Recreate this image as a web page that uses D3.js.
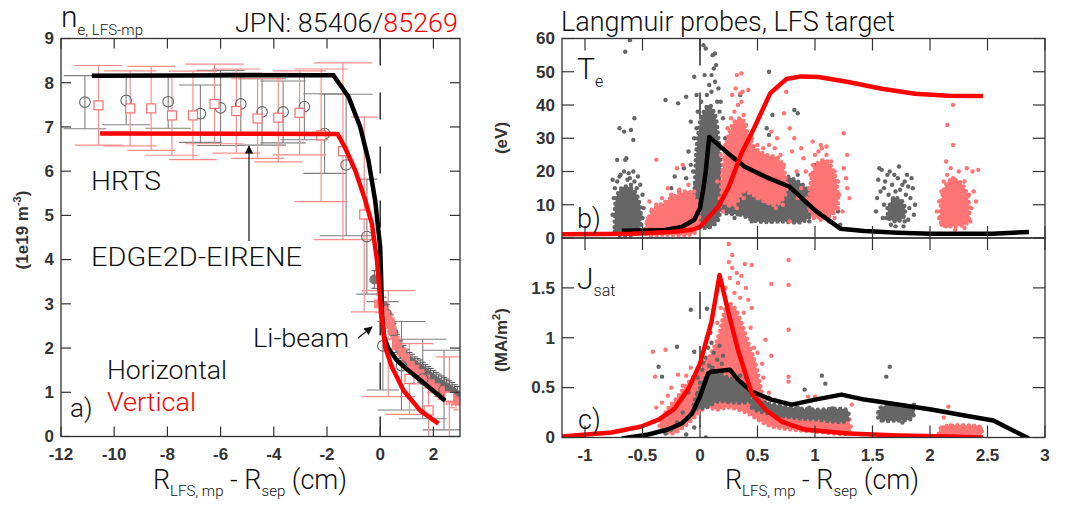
<!DOCTYPE html>
<html><head><meta charset="utf-8">
<script src="https://cdn.jsdelivr.net/npm/d3@7"></script>
<style>body{margin:0;background:#fff} svg{display:block}</style>
</head><body>
<svg id="c" width="1076" height="510"></svg>
<script>
// ---------------- DATA ----------------
const neXTicks = [-12,-10,-8,-6,-4,-2,0,2];
const neYTicks = [0,1,2,3,4,5,6,7,8,9];
const lpXTicks = [-1,-0.5,0,0.5,1,1.5,2,2.5,3];
const lpXLabels = ["-1","-0.5","0","0.5","1","1.5","2","2.5","3"];
const teYTicks = [0,10,20,30,40,50,60];
const jsYTicks = [0,0.5,1,1.5];
const jsYLabels = ["0","0.5","1","1.5"];

// EDGE2D-EIRENE ne profiles (x cm, ne 1e19)
const edgeNeHor = [[-10.84,8.16],[-1.76,8.17],[-1.19,7.68],[-0.75,7.0],[-0.44,6.24],[-0.19,5.34],[0,4.28],[0.04,3.5],[0.07,2.7],[0.15,2.25],[0.3,2.0],[0.63,1.72],[1.0,1.52],[1.38,1.34],[1.9,1.08],[2.44,0.81]];
const edgeNeVer = [[-10.53,6.85],[-1.6,6.84],[-1.32,6.53],[-0.94,6.02],[-0.56,5.34],[-0.31,4.81],[-0.12,3.98],[0.0,3.1],[0.1,2.5],[0.19,2.02],[0.44,1.57],[0.88,1.04],[1.5,0.59],[2.19,0.29]];

// HRTS [x, y, dx, dy]
const hrtsHor = [[-11.1,7.56,0.8,0.6],[-9.55,7.6,0.9,0.55],[-7.97,7.57,0.85,0.6],[-6.76,7.3,0.8,0.65],[-6.0,7.43,0.9,0.85],[-5.24,7.52,0.8,0.7],[-4.44,7.34,0.9,0.75],[-3.65,7.34,0.85,0.7],[-2.85,7.46,0.9,0.75],[-2.09,6.85,0.8,0.9],[-1.28,6.14,1.0,1.6],[-0.5,4.52,0.4,1.3],[0.1,2.05,0.6,1.0],[0.8,1.6,0.9,1.0],[1.6,1.3,0.9,0.9],[2.4,1.05,0.8,0.9]];
const hrtsVer = [[-10.59,7.49,0.9,0.9],[-9.40,7.42,1.0,0.85],[-8.61,7.42,0.9,0.95],[-7.83,7.26,1.0,0.9],[-7.04,7.26,0.9,1.0],[-6.23,7.52,1.1,0.9],[-5.41,7.36,0.9,0.95],[-4.61,7.19,1.0,0.9],[-3.83,7.21,0.9,1.0],[-3.03,7.32,1.0,0.95],[-2.22,6.81,1.0,1.5],[-1.4,6.45,1.1,2.0],[-0.6,5.02,0.5,2.2],[0.3,2.1,1.0,1.2],[1.1,1.3,0.9,0.8],[1.82,0.59,0.7,0.6],[2.6,0.9,0.5,0.9]];

// Li-beam [x, y]
const liHor = [[-0.22,3.55],[0.12,2.95],[0.25,2.78],[0.4,2.55],[0.5,2.35],[0.63,2.1],[0.75,1.96],[0.87,1.86],[1.0,1.76],[1.1,1.7],[1.2,1.66],[1.3,1.6],[1.4,1.56],[1.5,1.53],[1.6,1.48],[1.7,1.43],[1.8,1.38],[1.9,1.34],[2.0,1.29],[2.1,1.25],[2.2,1.21],[2.3,1.17],[2.4,1.13],[2.5,1.1],[2.6,1.06],[2.7,1.02],[2.8,0.97],[2.9,0.93]];
const liVer = [[-0.06,3.0],[0.1,2.85],[0.2,2.75],[0.3,2.65],[0.38,2.59],[0.45,2.4],[0.56,2.17],[0.65,2.05],[0.81,1.91],[0.95,1.78],[1.13,1.61],[1.3,1.52],[1.5,1.42],[1.7,1.3],[1.88,1.19],[2.1,1.1],[2.26,1.04],[2.5,0.93],[2.7,0.85],[2.85,0.8]];

// Langmuir probe Te (eV) EDGE2D lines
const edgeTeHor = [[-0.68,2.2],[-0.33,2.3],[-0.16,3.3],[-0.05,5.5],[0.0,9],[0.03,15],[0.05,20],[0.08,30.4],[0.28,24.4],[0.39,21.4],[0.57,18.4],[0.78,15.4],[1.0,8.3],[1.22,2.8],[1.43,2.1],[1.72,1.6],[2.01,1.3],[2.54,1.3],[2.86,1.8]];
const edgeTeVer = [[-1.2,1.1],[-0.59,1.3],[-0.25,1.8],[-0.07,2.5],[0.0,3.3],[0.16,9.5],[0.25,15.3],[0.36,25.4],[0.47,33],[0.61,43.5],[0.75,47.8],[0.88,48.6],[1.03,48.4],[1.29,46.9],[1.58,44.9],[1.87,43.4],[2.16,42.8],[2.46,42.7]];

// Te scatter, dense cores (outlines) and individual points
const teGrayCores = [
 [[-0.73,1.2],[-0.74,7],[-0.72,13],[-0.66,15.5],[-0.58,14.5],[-0.53,11],[-0.52,4],[-0.56,1.2],[-0.68,0.8]],
 [[-0.03,5],[-0.04,20],[-0.02,30],[0.02,37],[0.08,40],[0.13,37],[0.16,30],[0.18,22],[0.18,12],[0.15,5],[0.05,3]],
 [[0.2,8],[0.35,7],[0.5,5],[0.7,5],[0.9,5],[1.0,9],[0.95,14],[0.85,17],[0.7,19],[0.5,18],[0.35,19],[0.22,16]],
 [[1.64,6],[1.65,10],[1.7,12],[1.76,11],[1.78,7],[1.72,5]]
];
const teGrayPts = [[-0.74,2],[-0.72,4],[-0.7,6],[-0.73,9],[-0.69,11],[-0.66,13],[-0.62,14],[-0.58,12.5],[-0.54,10],[-0.52,7],[-0.51,4],[-0.53,2],[-0.6,1.5],[-0.67,1.2],[-0.72,17],[-0.7,18.5],[-0.66,20],[-0.62,19.5],[-0.58,20],[-0.6,16],[-0.55,15],[-0.68,14.5],[-0.74,15],[-0.63,17.5],[-0.57,17],[-0.52,16],[-0.75,12],[-0.5,13],[-0.65,23.5],[-0.64,24],[-0.72,23.5],[-0.7,33],[-0.66,32],[-0.6,32.5],[-0.57,36],[-0.58,29.5],[-0.65,56],[-0.61,59.5],[-0.76,7],[-0.49,9],[-0.69,19],[-0.61,18],[-0.54,18.5],[-0.76,17.5],[-0.5,6],
 [-0.45,5],[-0.42,8],[-0.35,4],[-0.3,10],[-0.25,12],[-0.2,6],[-0.18,14],[-0.15,8],[-0.12,18],[-0.1,12],[-0.08,22],[-0.3,41.5],[-0.19,40.5],[-0.12,42.5],[-0.08,35],[-0.05,48.5],[-0.03,43],[-0.25,15],[-0.05,30],[-0.1,26],[-0.06,20],[-0.04,16],[-0.14,21],[-0.22,18.5],
 [0.03,58],[0.05,57],[0.11,55],[0.13,55.5],[0.12,51],[0.14,52],[0.1,49],[0.04,49],[0.13,47],[0.16,45],[0.08,46],[0.18,41],[0.2,36],[0.22,30],[0.24,27],[-0.02,38],[-0.03,33],[0.0,28],[0.6,50],[0.35,43],[0.63,37],[0.82,38.5],[0.85,37.5],[0.58,33],[0.6,31],[0.45,30],[0.06,43],[0.1,44],[0.15,41],[0.17,38],[0.01,41],
 [0.25,10],[0.3,6],[0.35,14],[0.4,8],[0.42,18],[0.45,5],[0.5,12],[0.52,16],[0.55,7],[0.6,10],[0.62,5],[0.65,13],[0.68,8],[0.7,18],[0.72,6],[0.75,11],[0.78,9],[0.8,14],[0.83,6],[0.85,19],[0.88,10],[0.9,7],[0.92,13],[0.95,5],[1.0,8],[1.05,11],[1.1,6],[1.15,12],[1.2,8],[1.22,4],[0.97,15],[1.0,22],[0.35,21],[0.28,18],
 [1.53,8],[1.54,12],[1.55,17.5],[1.56,21],[1.6,10],[1.6,15],[1.62,6],[1.63,19],[1.65,20],[1.66,4],[1.68,8],[1.68,12],[1.7,14],[1.7,6],[1.72,9],[1.72,18],[1.74,11],[1.75,7],[1.76,16],[1.78,5],[1.79,13],[1.8,19],[1.82,9],[1.83,12],[1.85,15],[1.86,7],[1.87,10],[1.64,13],[1.66,10],[1.7,3.5],[1.58,20.5],[1.73,21.5],[1.57,14],[1.61,17],[1.67,16],[1.69,19],[1.74,14.5],[1.78,17],[1.81,15.5],[1.84,18],[1.59,6],[1.63,9],[1.81,5.5],[1.77,3.5],[1.65,7.5],[1.75,9.5]];
const tePinkCores = [
 [[-0.47,1.2],[-0.46,5],[-0.4,8.5],[-0.3,11],[-0.2,13],[-0.1,14],[-0.03,11],[-0.01,5],[-0.05,1.5],[-0.3,1]],
 [[0.19,13],[0.21,24],[0.25,31],[0.3,35],[0.36,36],[0.41,32],[0.48,27],[0.58,25],[0.68,24],[0.74,19],[0.74,13],[0.66,10],[0.56,11],[0.46,13],[0.38,14],[0.3,10],[0.23,10]],
 [[0.96,8],[0.97,18],[1.01,22],[1.08,23.5],[1.15,21],[1.19,16],[1.19,9],[1.12,6.5],[1.0,6.5]],
 [[2.09,6],[2.11,13],[2.16,17],[2.23,17.5],[2.3,15],[2.34,10],[2.32,4.5],[2.2,3.5],[2.11,4]]
];
const tePinkPts = [[-0.48,1.5],[-0.46,3],[-0.45,6],[-0.42,8.5],[-0.4,4],[-0.38,10],[-0.35,7],[-0.33,12],[-0.3,3],[-0.28,9],[-0.25,13],[-0.22,5],[-0.2,11],[-0.18,14.5],[-0.15,8],[-0.12,13],[-0.1,16],[-0.08,10],[-0.05,14],[-0.03,7],[-0.38,23.5],[-0.2,21],[-0.15,22],[-0.28,15],[-0.44,11],[-0.5,2],
 [0.17,12],[0.2,20],[0.22,28],[0.24,33],[0.27,36],[0.3,38],[0.33,40],[0.36,41],[0.38,37],[0.4,34],[0.32,49],[0.36,49.5],[0.37,44],[0.35,43.5],[0.42,44.5],[0.75,44],[0.73,37.5],[0.78,33],[0.82,30],[0.88,27],[0.9,24],[0.84,20],[0.8,26],[0.78,5],[0.5,-1.5],[0.45,30],[0.5,28],[0.55,27],[0.6,28],[0.65,27],[0.7,25],[0.73,22],[0.76,16],[0.72,10],[0.66,9],[0.58,11],[0.5,12],[0.44,14],[0.38,12],[0.32,9],[0.26,10],[0.2,8],[0.15,17],[0.18,25],[0.28,43],[0.31,45],[0.85,12],[0.88,15],[0.92,20],[0.62,32],[0.67,30],
 [0.95,9],[0.95,15],[0.96,19],[0.98,22],[1.0,25],[1.03,26],[1.06,27],[1.1,25],[1.14,23],[1.17,20],[1.2,17],[1.21,13],[1.2,9],[1.17,6],[1.12,5],[1.05,5.5],[0.99,6],[1.05,28],[1.1,27.5],[1.25,31.5],[1.28,25],[1.27,18],[1.3,12],[1.28,15],[0.98,29],[1.24,8],[1.25,21],[0.93,12],
 [2.08,6],[2.08,11],[2.1,14],[2.12,17],[2.15,19],[2.2,18],[2.25,20],[2.3,17],[2.34,13],[2.36,9],[2.35,5],[2.3,3],[2.22,2.5],[2.14,3.5],[2.1,4],[2.2,40],[2.15,34],[2.2,28],[2.42,20.5],[2.37,20],[2.32,21],[2.14,23],[2.38,14],[2.4,11],[2.06,8],[2.18,21]];

// Jsat (MA/m2) EDGE2D lines
const edgeJsHor = [[-0.68,-0.01],[-0.45,0.03],[-0.28,0.08],[-0.16,0.14],[-0.07,0.24],[0.0,0.41],[0.07,0.64],[0.1,0.66],[0.26,0.68],[0.33,0.58],[0.45,0.46],[0.62,0.38],[0.8,0.33],[1.0,0.38],[1.23,0.43],[1.43,0.38],[1.72,0.33],[2.01,0.28],[2.3,0.22],[2.55,0.17],[2.86,-0.01]];
const edgeJsVer = [[-1.21,0.01],[-0.77,0.05],[-0.51,0.11],[-0.36,0.18],[-0.22,0.29],[-0.1,0.49],[0.0,0.74],[0.1,1.16],[0.17,1.63],[0.25,1.24],[0.33,0.88],[0.45,0.44],[0.57,0.28],[0.71,0.16],[0.91,0.08],[1.29,0.04],[1.72,0.02],[2.16,0.01],[2.46,0.0]];

const jsGrayCores = [
 [[-0.05,0.3],[-0.02,0.45],[0.05,0.6],[0.1,0.68],[0.2,0.62],[0.3,0.58],[0.4,0.52],[0.45,0.42],[0.42,0.36],[0.3,0.35],[0.15,0.36],[0.05,0.3]],
 [[0.45,0.38],[0.6,0.34],[0.8,0.3],[1.0,0.28],[1.28,0.27],[1.28,0.17],[1.0,0.18],[0.8,0.2],[0.6,0.24],[0.45,0.3]],
 [[1.55,0.2],[1.58,0.3],[1.68,0.33],[1.8,0.31],[1.86,0.26],[1.84,0.19],[1.7,0.17],[1.6,0.17]]
];
const jsGrayPts = [[0.03,0.75],[0.05,0.8],[0.07,0.9],[0.08,0.72],[0.1,0.95],[0.12,0.85],[0.15,0.78],[0.17,0.92],[0.06,1.0],[0.09,1.05],[0.11,0.7],[0.19,0.74],[0.2,0.82],[0.02,0.68],[-0.02,0.6],[0.0,0.55],[-0.08,1.28],[0.06,1.29],[-0.2,0.91],[-0.36,0.71],[-0.33,0.61],[-0.05,0.86],[-0.1,0.45],[-0.15,0.25],[-0.2,0.15],[-0.25,0.08],[-0.3,0.04],[-0.1,0.2],[-0.05,0.1],[-0.12,0.03],[0.05,0.0],[0.48,0.45],[0.5,0.38],[0.55,0.35],[0.6,0.32],[0.65,0.3],[0.7,0.28],[0.75,0.27],[0.8,0.25],[0.85,0.24],[0.9,0.25],[0.95,0.22],[1.0,0.24],[1.05,0.23],[1.1,0.25],[1.15,0.22],[1.2,0.24],[1.25,0.2],[1.27,0.26],[0.91,0.48],[1.06,0.62],[1.09,0.54],[1.65,0.71],[1.62,0.61],[1.55,0.25],[1.57,0.3],[1.6,0.2],[1.62,0.28],[1.65,0.33],[1.68,0.22],[1.7,0.3],[1.72,0.18],[1.75,0.26],[1.78,0.32],[1.8,0.21],[1.82,0.28],[1.85,0.24],[1.86,0.33],[1.58,0.17],[1.76,0.15],[0.85,0.3],[0.95,0.3],[1.15,0.29],[0.7,0.22],[0.6,0.4],[0.4,0.6],[0.35,0.62]];
const jsPinkCores = [
 [[-0.35,0.1],[-0.3,0.25],[-0.2,0.4],[-0.1,0.55],[-0.02,0.65],[0.05,0.75],[0.12,0.9],[0.17,1.05],[0.2,1.2],[0.24,1.35],[0.3,1.3],[0.36,1.15],[0.42,0.95],[0.48,0.75],[0.52,0.55],[0.55,0.4],[0.6,0.3],[0.75,0.22],[0.9,0.18],[1.1,0.16],[1.3,0.14],[1.3,0.05],[1.0,0.06],[0.8,0.08],[0.6,0.12],[0.4,0.25],[0.25,0.3],[0.15,0.28],[0.05,0.3],[-0.05,0.2],[-0.15,0.1],[-0.25,0.04]],
 [[2.08,0.02],[2.1,0.1],[2.2,0.12],[2.35,0.12],[2.44,0.1],[2.44,0.01]]
];
const jsPinkPts = [[-0.41,0.86],[-0.39,0.61],[-0.3,0.88],[-0.19,0.63],[-0.38,0.3],[-0.33,0.35],[-0.28,0.42],[-0.25,0.5],[-0.15,0.52],[-0.12,0.62],[-0.08,0.7],[0.25,1.94],[0.28,1.83],[0.25,1.76],[0.39,1.74],[0.45,1.73],[0.42,1.38],[0.62,1.54],[0.77,1.78],[0.77,1.53],[0.77,1.08],[0.77,0.61],[0.77,0.56],[0.57,0.98],[0.54,0.74],[0.94,0.41],[1.0,0.41],[1.32,0.33],[2.16,0.31],[0.22,1.5],[0.26,1.6],[0.3,1.45],[0.33,1.55],[0.35,1.4],[0.38,1.25],[0.44,1.1],[0.47,0.9],[0.5,0.85],[0.18,1.3],[0.15,1.15],[0.28,1.7],[0.32,1.65],[0.55,0.6],[0.6,0.45],[0.65,0.38],[0.7,0.3],[1.2,0.22],[1.25,0.2],[1.3,0.18],[1.1,0.25],[0.62,0.82],[0.4,1.5],[0.45,1.3],[0.36,1.62],
 [2.1,0.05],[2.12,0.1],[2.15,0.08],[2.18,0.12],[2.2,0.06],[2.22,0.1],[2.25,0.09],[2.28,0.11],[2.3,0.07],[2.33,0.1],[2.36,0.08],[2.4,0.1],[2.42,0.06],[2.44,0.09],[2.12,0.2]];

// ---------------- DRAW ----------------
const svg = d3.select('#c');
const GRAY = '#666', PINK = '#ff7474', RED = '#ff0000';
const LIGHT = "'Roboto','Helvetica Neue','Liberation Sans',sans-serif";
const BOLD = "'Liberation Sans',Arial,sans-serif";

const xa = d3.scaleLinear().domain([-12,3]).range([61,460]);
const ya = d3.scaleLinear().domain([0,9]).range([436.5,38.5]);
const xb = d3.scaleLinear().domain([-1.2,3]).range([562,1045]);
const yb = d3.scaleLinear().domain([0,60]).range([238,38.5]);
const yc = d3.scaleLinear().domain([0,2]).range([437.5,238]);

function clip(id, x, y) {
  svg.append('clipPath').attr('id', id).append('rect')
    .attr('x', x.range()[0]).attr('y', y.range()[1])
    .attr('width', x.range()[1]-x.range()[0]).attr('height', y.range()[0]-y.range()[1]);
}
clip('ca', xa, ya); clip('cb', xb, yb); clip('cc', xb, yc);

function ticks(x, y, xt, yt, len) {
  const g = svg.append('g').attr('stroke', '#333').attr('stroke-width', 1.2);
  const [x0,x1] = x.range(), [y0,y1] = y.range();
  xt.forEach(t => {
    g.append('line').attr('x1', x(t)).attr('x2', x(t)).attr('y1', y0).attr('y2', y0-len);
    g.append('line').attr('x1', x(t)).attr('x2', x(t)).attr('y1', y1).attr('y2', y1+len);
  });
  yt.forEach(t => {
    g.append('line').attr('y1', y(t)).attr('y2', y(t)).attr('x1', x0).attr('x2', x0+len);
    g.append('line').attr('y1', y(t)).attr('y2', y(t)).attr('x1', x1).attr('x2', x1-len);
  });
  svg.append('rect').attr('x', x0).attr('y', y1).attr('width', x1-x0).attr('height', y0-y1)
    .attr('fill', 'none').attr('stroke', '#333').attr('stroke-width', 1.3);
}
function xLabels(x, y, vals, labels) {
  svg.append('g').selectAll('text').data(vals).join('text')
    .attr('x', d => x(d)).attr('y', y.range()[0] + 23).attr('text-anchor', 'middle')
    .attr('font-family', BOLD).attr('font-weight', 'bold').attr('font-size', 17).attr('fill', '#333')
    .text((d,i) => labels ? labels[i] : d);
}
function yLabels(x, y, vals, labels) {
  svg.append('g').selectAll('text').data(vals).join('text')
    .attr('x', x.range()[0] - 7).attr('y', d => y(d)).attr('dy', '0.34em').attr('text-anchor', 'end')
    .attr('font-family', BOLD).attr('font-weight', 'bold').attr('font-size', 17).attr('fill', '#333')
    .text((d,i) => labels ? labels[i] : d);
}
function zeroLine(x, y, cp) {
  svg.append('line').attr('clip-path', `url(#${cp})`)
    .attr('x1', x(0)).attr('x2', x(0)).attr('y1', y.range()[1]).attr('y2', y.range()[0])
    .attr('stroke', '#222').attr('stroke-width', 1.4).attr('stroke-dasharray', '27,27');
}
function curve(x, y, data, color, cp) {
  svg.append('path').datum(data).attr('clip-path', `url(#${cp})`)
    .attr('d', d3.line().x(d => x(d[0])).y(d => y(d[1])))
    .attr('fill', 'none').attr('stroke', color).attr('stroke-width', 4.5)
    .attr('stroke-linejoin', 'round').attr('stroke-linecap', 'butt');
}
function cloud(x, y, cores, pts, color, cp) {
  const g = svg.append('g').attr('clip-path', `url(#${cp})`);
  const shape = d3.line().x(d => x(d[0])).y(d => y(d[1])).curve(d3.curveCatmullRomClosed);
  g.selectAll('path.core').data(cores).join('path').attr('class', 'core')
    .attr('d', shape).attr('fill', color);
  // stippled rim so the dense cores keep a dotted edge like the scatter
  g.selectAll('path.rim').data(cores).join('path').attr('class', 'rim')
    .attr('d', shape).attr('fill', 'none').attr('stroke', color).attr('stroke-width', 4.4)
    .attr('stroke-linecap', 'round').attr('stroke-dasharray', '0,5.5');
  g.selectAll('circle').data(pts).join('circle')
    .attr('cx', d => x(d[0])).attr('cy', d => y(d[1])).attr('r', 2.2).attr('fill', color);
}

// ---- panel a ----
zeroLine(xa, ya, 'ca');
const ga = svg.append('g').attr('clip-path', 'url(#ca)');
function errBars(data, color, w) {
  data.forEach(d => {
    const [x, y, dx, dy] = d;
    ga.append('line').attr('x1', xa(x)).attr('x2', xa(x)).attr('y1', ya(y-dy)).attr('y2', ya(y+dy))
      .attr('stroke', color).attr('stroke-width', w);
    [y-dy, y+dy].forEach(yy => ga.append('line').attr('x1', xa(x-dx)).attr('x2', xa(x+dx))
      .attr('y1', ya(yy)).attr('y2', ya(yy)).attr('stroke', color).attr('stroke-width', w));
  });
}
errBars(hrtsHor, '#808080', 1.1);
errBars(hrtsVer, '#ff8c8c', 1.2);
function liErr(data, color) {
  data.forEach(d => {
    const [x, y] = d;
    ga.append('line').attr('x1', xa(x)).attr('x2', xa(x)).attr('y1', ya(y-0.2)).attr('y2', ya(y+0.2)).attr('stroke', color);
    [y-0.2, y+0.2].forEach(yy => ga.append('line').attr('x1', xa(x)-3).attr('x2', xa(x)+3)
      .attr('y1', ya(yy)).attr('y2', ya(yy)).attr('stroke', color));
  });
}
liErr(liHor, '#555'); liErr(liVer, '#ff8080');
ga.selectAll('circle.lh').data(liHor).join('circle').attr('class', 'lh')
  .attr('cx', d => xa(d[0])).attr('cy', d => ya(d[1])).attr('r', 5).attr('fill', '#6a6a6a').attr('opacity', 0.9);
ga.selectAll('rect.lv').data(liVer).join('rect').attr('class', 'lv')
  .attr('x', d => xa(d[0]) - 4.5).attr('y', d => ya(d[1]) - 4.5).attr('width', 9).attr('height', 9)
  .attr('fill', '#ff7d7d').attr('opacity', 0.9);
ga.selectAll('circle.hh').data(hrtsHor).join('circle').attr('class', 'hh')
  .attr('cx', d => xa(d[0])).attr('cy', d => ya(d[1])).attr('r', 5.3)
  .attr('fill', 'none').attr('stroke', '#666').attr('stroke-width', 1.1);
ga.selectAll('rect.hv').data(hrtsVer).join('rect').attr('class', 'hv')
  .attr('x', d => xa(d[0]) - 4.5).attr('y', d => ya(d[1]) - 4.5).attr('width', 9).attr('height', 9)
  .attr('fill', '#fff').attr('stroke', '#ff6e6e').attr('stroke-width', 1.2);
curve(xa, ya, edgeNeHor, '#000', 'ca');
curve(xa, ya, edgeNeVer, RED, 'ca');
ticks(xa, ya, neXTicks, neYTicks, 10);
xLabels(xa, ya, neXTicks);
yLabels(xa, ya, neYTicks);

// ---- panel b ----
zeroLine(xb, yb, 'cb');
cloud(xb, yb, teGrayCores, teGrayPts, GRAY, 'cb');
cloud(xb, yb, tePinkCores, tePinkPts, PINK, 'cb');
curve(xb, yb, edgeTeHor, '#000', 'cb');
curve(xb, yb, edgeTeVer, RED, 'cb');
ticks(xb, yb, lpXTicks, teYTicks, 12);
yLabels(xb, yb, teYTicks);

// ---- panel c ----
zeroLine(xb, yc, 'cc');
cloud(xb, yc, jsPinkCores, jsPinkPts, PINK, 'cc');
cloud(xb, yc, jsGrayCores, jsGrayPts, GRAY, 'cc');
curve(xb, yc, edgeJsHor, '#000', 'cc');
curve(xb, yc, edgeJsVer, RED, 'cc');
ticks(xb, yc, lpXTicks, jsYTicks, 12);
xLabels(xb, yc, lpXTicks, lpXLabels);
yLabels(xb, yc, jsYTicks, jsYLabels);

// ---- texts ----
function txt(x, y, parts, opts = {}) {
  const t = svg.append('text').attr('x', x).attr('y', y)
    .attr('font-family', opts.family || LIGHT).attr('font-weight', opts.weight || 300)
    .attr('fill', opts.fill || '#111').attr('text-anchor', opts.anchor || 'start');
  if (opts.rotate) t.attr('transform', `rotate(-90,${x},${y})`);
  if (opts.len) t.attr('textLength', opts.len).attr('lengthAdjust', 'spacingAndGlyphs');
  parts.forEach(p => {
    const s = t.append('tspan').text(p.t).attr('font-size', p.s);
    if (p.dy) s.attr('dy', p.dy);
    if (p.fill) s.attr('fill', p.fill);
  });
  return t;
}
txt(61, 27, [{t:'n', s:30}, {t:'e, LFS-mp', s:15, dy:8}]);
txt(235, 32, [{t:'JPN: 85406/', s:26}, {t:'85269', s:26, fill:RED}], {len:223});
txt(561, 31, [{t:'Langmuir probes, LFS target', s:27}]);
txt(91, 190, [{t:'HRTS', s:26}], {len:70});
txt(91, 266, [{t:'EDGE2D-EIRENE', s:26}], {len:211});
txt(253, 347, [{t:'Li-beam', s:26}], {len:96});
txt(107, 379, [{t:'Horizontal', s:26}], {len:120});
txt(107, 411, [{t:'Vertical', s:26, fill:RED}], {len:89});
txt(70, 417, [{t:'a)', s:26}]);
txt(577, 79, [{t:'T', s:30}, {t:'e', s:16, dy:8}]);
txt(577, 228, [{t:'b)', s:27}]);
txt(577, 289, [{t:'J', s:30}, {t:'sat', s:16, dy:7}]);
txt(578, 429, [{t:'c)', s:27}]);
function xTitle(cx) {
  txt(cx, 489, [{t:'R', s:27}, {t:'LFS, mp', s:15, dy:7}, {t:' - R', s:27, dy:-7}, {t:'sep', s:15, dy:7}, {t:' (cm)', s:27, dy:-7}], {anchor:'middle'});
}
xTitle(250); xTitle(822);
txt(28, 230, [{t:'(1e19 m', s:17}, {t:'-3', s:11, dy:-7}, {t:')', s:17, dy:7}], {family:BOLD, weight:'bold', anchor:'middle', rotate:true, fill:'#333'});
txt(507, 138, [{t:'(eV)', s:17}], {family:BOLD, weight:'bold', anchor:'middle', rotate:true, fill:'#333'});
txt(507, 340, [{t:'(MA/m', s:17}, {t:'2', s:11, dy:-7}, {t:')', s:17, dy:7}], {family:BOLD, weight:'bold', anchor:'middle', rotate:true, fill:'#333'});

// arrows
const defs = svg.append('defs');
defs.append('marker').attr('id', 'ah').attr('viewBox', '0 0 10 10').attr('refX', 9).attr('refY', 5)
  .attr('markerWidth', 7).attr('markerHeight', 7).attr('orient', 'auto')
  .append('path').attr('d', 'M0,0 L10,5 L0,10 z').attr('fill', '#111');
svg.append('line').attr('x1', 249).attr('y1', 241).attr('x2', 249).attr('y2', 146)
  .attr('stroke', '#111').attr('stroke-width', 1.2).attr('marker-end', 'url(#ah)');
svg.append('line').attr('x1', 358).attr('y1', 338).attr('x2', 372).attr('y2', 327)
  .attr('stroke', '#111').attr('stroke-width', 1.2).attr('marker-end', 'url(#ah)');
</script>
</body></html>
